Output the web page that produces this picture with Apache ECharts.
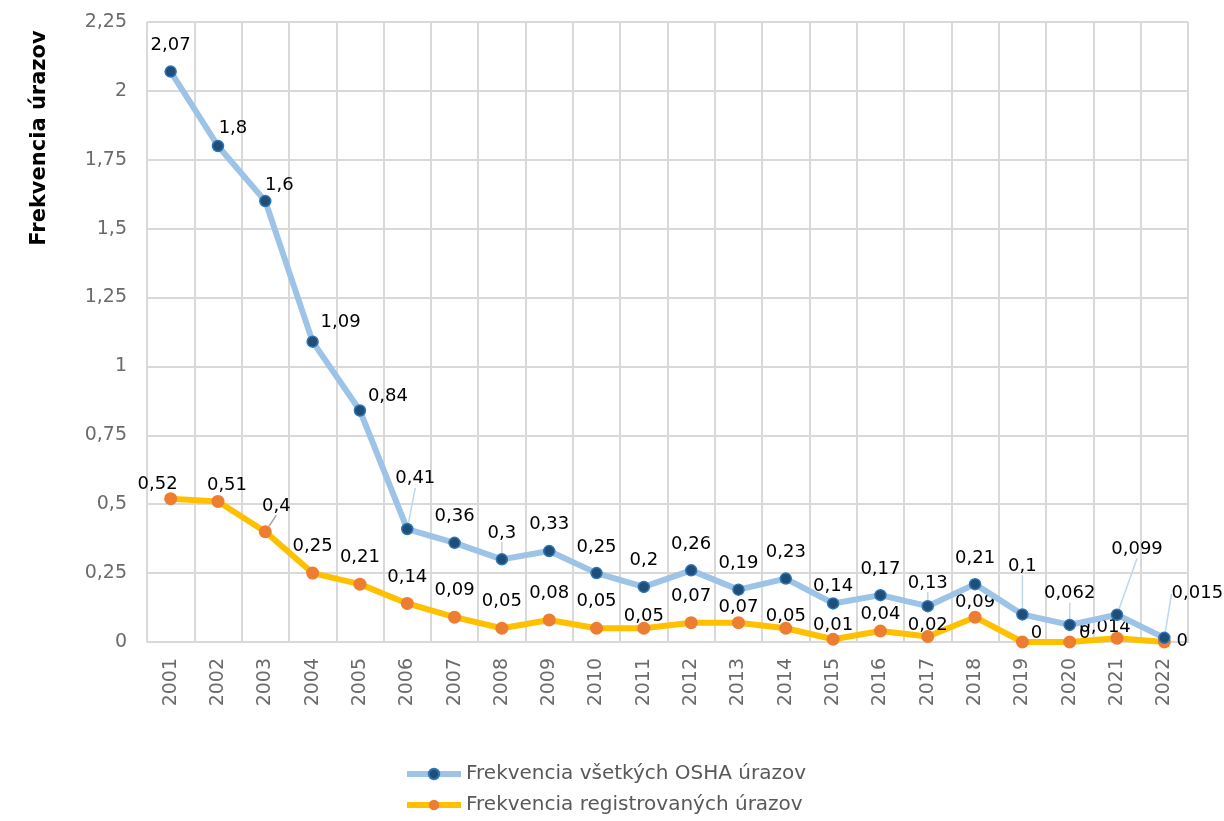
<!DOCTYPE html>
<html>
<head>
<meta charset="utf-8">
<script src="https://cdn.jsdelivr.net/npm/echarts@6/dist/echarts.min.js"></script>
<style>
  html, body { margin: 0; padding: 0; background: #fff; }
  #chart { width: 1224px; height: 821px; }
</style>
</head>
<body>
<div id="chart"></div>
<script>
var years = ['2001', '2002', '2003', '2004', '2005', '2006', '2007', '2008', '2009', '2010', '2011',
    '2012', '2013', '2014', '2015', '2016', '2017', '2018', '2019', '2020', '2021', '2022'];

var oshaValues = [2.07, 1.8, 1.6, 1.09, 0.84, 0.41, 0.36, 0.3, 0.33, 0.25, 0.2,
    0.26, 0.19, 0.23, 0.14, 0.17, 0.13, 0.21, 0.1, 0.062, 0.099, 0.015];

var registeredValues = [0.52, 0.51, 0.4, 0.25, 0.21, 0.14, 0.09, 0.05, 0.08, 0.05, 0.05,
    0.07, 0.07, 0.05, 0.01, 0.04, 0.02, 0.09, 0, 0, 0.014, 0];

var seriesNames = ['Frekvencia všetkých OSHA úrazov', 'Frekvencia registrovaných úrazov'];

// label nudges (by year index), like the hand-moved labels in the original
var oshaLabelShift = {
    1: [15, 9], 2: [14, 10], 3: [28, 7], 4: [28, 12], 5: [8, -24],
    14: [0, 9], 16: [0, 3], 19: [0, -5], 18: [0, -22], 20: [20, -39], 21: [33, -18]
};
var regLabelShift = {
    0: [-13, 12], 1: [9, 10], 2: [11, 1], 10: [0, 15], 12: [0, 11], 13: [0, 15],
    14: [0, 13], 15: [0, 10], 16: [0, 15], 17: [0, 12], 18: [14, 18], 19: [15, 18],
    20: [-12, 16], 21: [18, 26]
};
var oshaLeaders = [5, 7, 16, 18, 19, 20, 21];
var regLeaders = [2];

function fmt(v) {
    return String(v).replace('.', ',');
}

function buildData(values, leaders, color) {
    return values.map(function (v, i) {
        var item = { value: v };
        if (leaders.indexOf(i) >= 0) {
            item.labelLine = { show: true, lineStyle: { color: color, width: 1.5 } };
        }
        return item;
    });
}

var textFont = 'DejaVu Sans';

var chartDom = document.getElementById('chart');
var myChart = echarts.init(chartDom);

var labelStyle = {
    show: true,
    position: 'top',
    distance: 11,
    color: '#000',
    fontFamily: textFont,
    fontSize: 18,
    formatter: function (p) { return fmt(p.value); }
};

var option = {
    animation: false,
    textStyle: { fontFamily: textFont },
    grid: {
        left: 147,
        right: 36,
        top: 22,
        bottom: 179
    },
    graphic: [
        {
            type: 'text',
            x: 40,
            y: 138,
            rotation: Math.PI / 2,
            style: {
                text: 'Frekvencia úrazov',
                fontFamily: textFont,
                fontSize: 21,
                fontWeight: 'bold',
                fill: '#000',
                align: 'center',
                verticalAlign: 'middle'
            }
        }
    ],
    legend: {
        orient: 'vertical',
        left: 404,
        top: 764,
        padding: 0,
        itemWidth: 54,
        itemHeight: 13,
        itemGap: 11,
        lineStyle: { width: 6 },
        textStyle: {
            color: '#595959',
            fontSize: 20,
            fontFamily: textFont
        },
        data: seriesNames
    },
    xAxis: {
        type: 'category',
        boundaryGap: true,
        data: years,
        axisLine: { lineStyle: { color: '#d9d9d9', width: 2 } },
        axisTick: { show: false },
        splitLine: { show: true, lineStyle: { color: '#d9d9d9', width: 2 } },
        axisLabel: {
            rotate: 90,
            color: '#6b6b6b',
            fontSize: 19,
            margin: 16,
            interval: 0
        }
    },
    yAxis: {
        type: 'value',
        min: 0,
        max: 2.25,
        interval: 0.25,
        axisLine: { show: false },
        axisTick: { show: false },
        splitLine: { lineStyle: { color: '#d9d9d9', width: 2 } },
        axisLabel: {
            color: '#6b6b6b',
            fontSize: 19,
            margin: 20,
            formatter: function (v) { return fmt(v); }
        }
    },
    series: [
        {
            name: seriesNames[0],
            type: 'line',
            data: buildData(oshaValues, oshaLeaders, '#bdd7ee'),
            symbol: 'circle',
            symbolSize: 11,
            z: 3,
            lineStyle: { color: '#9dc3e6', width: 6 },
            itemStyle: { color: '#1f4e79', borderColor: '#2e75b6', borderWidth: 1.5 },
            label: labelStyle,
            labelLayout: function (p) {
                var s = oshaLabelShift[p.dataIndex];
                return s ? { dx: s[0], dy: s[1] } : {};
            }
        },
        {
            name: seriesNames[1],
            type: 'line',
            data: buildData(registeredValues, regLeaders, '#a6a6a6'),
            symbol: 'circle',
            symbolSize: 13,
            z: 2,
            lineStyle: { color: '#ffc000', width: 6 },
            itemStyle: { color: '#ed7d31', borderColor: '#ed7d31', borderWidth: 0 },
            label: labelStyle,
            labelLayout: function (p) {
                var s = regLabelShift[p.dataIndex];
                return s ? { dx: s[0], dy: s[1] } : {};
            }
        }
    ]
};
myChart.setOption(option);
</script>
</body>
</html>
